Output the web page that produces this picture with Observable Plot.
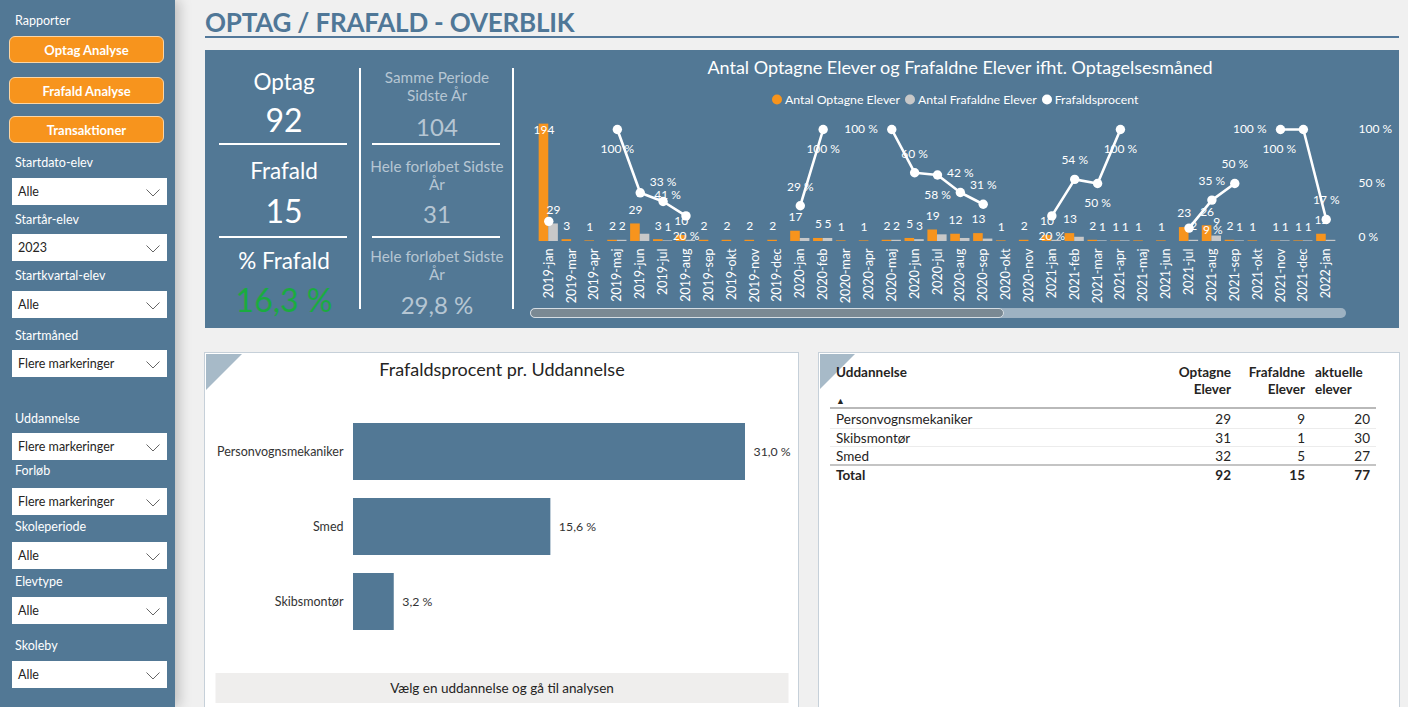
<!DOCTYPE html>
<html lang="da"><head><meta charset="utf-8">
<script src="https://cdn.jsdelivr.net/npm/d3@7"></script>
<script src="https://cdn.jsdelivr.net/npm/@observablehq/plot@0.6"></script>
<style>
html,body{margin:0;padding:0}
body{width:1408px;height:707px;overflow:hidden;background:#f0f0f0;position:relative;font-family:Lato,"Open Sans",sans-serif}
.a{position:absolute;white-space:nowrap}
.c{transform:translate(-50%,-50%)}
.lc{transform:translate(0,-50%)}
.rc{transform:translate(-100%,-50%)}
.btn{left:9px;width:155px;height:27px;background:#f7941d;border:1.5px solid #fbd5a4;border-radius:6px;color:#fff;font-weight:700;font-size:13px;display:flex;align-items:center;justify-content:center;box-sizing:border-box}
.flabel{left:15px;color:#fff;font-size:12.5px}
.dd{left:12px;width:155px;height:27px;background:#fff;box-sizing:border-box;font-size:12.5px;color:#252423;display:flex;align-items:center;padding-left:6px}
.dd svg{position:absolute;right:7px;top:11px}
.wpanel{background:#fff;border:1.5px solid #c6d0d9;box-sizing:border-box}
.hl{background:#fff;height:2px}
.vl{background:#fff;width:2px}
.kw{color:#fff}
.km{color:#b6c6d3}
.plotbox{position:absolute}
.plotbox svg{display:block}
.tbl{font-size:13.5px;color:#252423}
</style></head>
<body>
<script>
// ---------- DATA ----------
const months = ["2019-jan","2019-mar","2019-apr","2019-maj","2019-jun","2019-jul","2019-aug","2019-sep","2019-okt","2019-nov","2019-dec",
  "2020-jan","2020-feb","2020-mar","2020-apr","2020-maj","2020-jun","2020-jul","2020-aug","2020-sep","2020-okt","2020-nov",
  "2021-jan","2021-feb","2021-mar","2021-apr","2021-maj","2021-jun","2021-jul","2021-aug","2021-sep","2021-okt","2021-nov","2021-dec",
  "2022-jan"];
const optagneMd = [194,3,1,2,29,3,10,2,2,2,2, 17,5,1,1,2,5,19,12,13,1,2, 10,13,2,1,1,1,23,26,2,1,1,1, 12];
const frafaldneMd = [29,0,0,2,12,1,2,0,0,0,0, 5,5,0,0,2,3,11,5,4,0,0, 2,7,1,1,0,0,2,9,1,0,1,1, 2];

const uddannelser = ["Personvognsmekaniker","Skibsmontør","Smed"];
const optagneUdd = [29,31,32];
const frafaldneUdd = [9,1,5];
const aktuelleUdd = [20,30,27];

const kpiOptag = 92, kpiFrafald = 15;
const lastYearSamePeriod = 104, lastYearFrafald = 31, lastYearPct = 29.8;

const filterLabels = ["Startdato-elev","Startår-elev","Startkvartal-elev","Startmåned","Uddannelse","Forløb","Skoleperiode","Elevtype","Skoleby"];
const filterValues = ["Alle","2023","Alle","Flere markeringer","Flere markeringer","Flere markeringer","Alle","Alle","Alle"];
const reportButtons = ["Optag Analyse","Frafald Analyse","Transaktioner"];

// label placement for the percentage line (style only)
const pctLabelPlacement = {"2019-jan":"none","2019-maj":"below","2019-jun":"right","2019-aug":"below","2020-feb":"below",
  "2020-maj":"left","2020-jul":"below","2021-jan":"below","2021-mar":"below","2021-apr":"below","2021-jul":"right",
  "2021-nov":"left","2021-dec":"belowleft"};

// ---------- HELPERS ----------
const BLUE = "#527895", ORANGE = "#f7941d", GREY = "#c8c8c8";
const FONT = "Lato, 'Open Sans', sans-serif";
const fmt1 = v => v.toFixed(1).replace(".", ",") + " %";
function el(cls, css, html, parent = document.body) {
  const d = document.createElement("div");
  d.className = "a " + cls;
  Object.assign(d.style, css);
  if (html != null) d.innerHTML = html;
  parent.appendChild(d);
  return d;
}
const px = v => v + "px";

// ---------- SIDEBAR ----------
el("", {left:0, top:0, width:"175px", height:"707px", background:BLUE, boxShadow:"4px 0 12px rgba(0,0,0,0.22)"});
el("flabel lc", {left:"15px", top:"20px"}, "Rapporter");
const btnTops = [36, 77, 116];
reportButtons.forEach((b, i) => el("btn", {top:px(btnTops[i])}, b));
const labelY = [162, 219, 275, 335, 418, 470, 526, 581, 645];
const boxTop = [178, 234, 291, 350, 433, 488, 542, 597, 661];
const chevron = '<svg width="14" height="8"><polyline points="0.5,0.5 7,7 13.5,0.5" fill="none" stroke="#666" stroke-width="1"/></svg>';
filterLabels.forEach((f, i) => {
  el("flabel lc", {top:px(labelY[i])}, f);
  el("dd", {top:px(boxTop[i])}, filterValues[i] + chevron);
});

// ---------- TITLE ----------
el("lc", {left:"205px", top:"22px", fontSize:"26px", fontWeight:"700", color:"#4f7797", letterSpacing:"-0.2px"}, "OPTAG / FRAFALD - OVERBLIK");
el("", {left:"205px", top:"36px", width:"1194px", height:"2px", background:"#52789a"});

// ---------- TOP PANEL ----------
el("", {left:"205px", top:"50px", width:"1194px", height:"278px", background:BLUE});
// KPI column 1
el("c kw", {left:"284px", top:"81px", fontSize:"22.5px"}, "Optag");
el("c kw", {left:"284px", top:"119px", fontSize:"32px"}, String(kpiOptag));
el("hl", {left:"219px", top:"143px", width:"128px"});
el("c kw", {left:"284px", top:"170px", fontSize:"22.5px"}, "Frafald");
el("c kw", {left:"284px", top:"210px", fontSize:"32px"}, String(kpiFrafald));
el("hl", {left:"219px", top:"236px", width:"128px"});
el("c kw", {left:"284px", top:"260px", fontSize:"22.5px"}, "% Frafald");
el("c", {left:"284px", top:"299px", fontSize:"32px", color:"#1aab40"}, fmt1(kpiFrafald / kpiOptag * 100));
el("vl", {left:"359px", top:"68px", height:"241px"});
// KPI column 2
el("c km", {left:"437px", top:"77px", fontSize:"15.3px"}, "Samme Periode");
el("c km", {left:"437px", top:"95px", fontSize:"15.3px"}, "Sidste År");
el("c km", {left:"437px", top:"126px", fontSize:"24px"}, String(lastYearSamePeriod));
el("hl", {left:"372px", top:"143px", width:"128px"});
el("c km", {left:"437px", top:"166px", fontSize:"15.3px"}, "Hele forløbet Sidste");
el("c km", {left:"437px", top:"184px", fontSize:"15.3px"}, "År");
el("c km", {left:"437px", top:"213px", fontSize:"24px"}, String(lastYearFrafald));
el("hl", {left:"372px", top:"236px", width:"128px"});
el("c km", {left:"437px", top:"256px", fontSize:"15.3px"}, "Hele forløbet Sidste");
el("c km", {left:"437px", top:"274px", fontSize:"15.3px"}, "År");
el("c km", {left:"437px", top:"304px", fontSize:"24px"}, fmt1(lastYearPct));
el("vl", {left:"512px", top:"68px", height:"241px"});

// chart title + legend
el("c", {left:"960px", top:"67px", fontSize:"18px", color:"#fff"}, "Antal Optagne Elever og Frafaldne Elever ifht. Optagelsesmåned");
const legendItems = [["Antal Optagne Elever", ORANGE], ["Antal Frafaldne Elever", GREY], ["Frafaldsprocent", "#fff"]];
const leg = el("lc", {left:"772px", top:"99px", display:"flex", alignItems:"center", fontSize:"12.3px", color:"#fff"});
legendItems.forEach(([t, c]) => {
  const s = document.createElement("span");
  s.style.cssText = `display:inline-block;width:10px;height:10px;border-radius:50%;background:${c};margin-right:3px`;
  leg.appendChild(s);
  const tt = document.createElement("span");
  tt.textContent = t; tt.style.marginRight = "5px";
  leg.appendChild(tt);
});

// ---------- COMBO CHART (Plot) ----------
const rows = months.map((m, i) => ({
  month: m, optag: optagneMd[i], frafald: frafaldneMd[i],
  pct: frafaldneMd[i] > 0 ? frafaldneMd[i] / optagneMd[i] * 100 : null
}));
const W = 880, H = 210, mL = 15, mR = 61, pad = 0.16;
const n = months.length;
const step = (W - mL - mR) / (n - pad + 2 * pad);
const bw = step * (1 - pad);
const baseStyle = {background:"transparent", color:"#fff", fontFamily:FONT, fontSize:"12px", overflow:"visible"};
// grey labels that Power BI keeps visible (others are hidden by label collision)
const showGreyLabel = d => d.frafald > 0 && (d.optag < 10 || (d.optag - d.frafald >= 17 && d.pct < 40));

const barPlot = Plot.plot({
  width: W, height: H, marginLeft: mL, marginRight: mR, marginTop: 10, marginBottom: 79,
  style: {...baseStyle, fontSize:"12.5px"},
  x: {type:"band", domain: months, padding: pad, tickRotate: -90, tickSize: 0, tickPadding: 7, label: null},
  y: {domain: [0, 200], axis: null},
  marks: [
    Plot.barY(rows, {x:"month", y:"optag", fill: ORANGE, insetLeft: 0, insetRight: bw / 2}),
    Plot.barY(rows, {x:"month", y:"frafald", fill: GREY, insetLeft: bw / 2, insetRight: 0}),
    Plot.text(rows.filter(d => d.optag > 0 && d.optag < 180), {x:"month", y:"optag", text: d => String(d.optag), dx: -bw / 4, dy: -14, fontSize: 12, fill:"#fff"}),
    Plot.text(rows.filter(d => d.optag >= 180), {x:"month", y:"optag", text: d => String(d.optag), dx: -bw / 4, dy: 6, fontSize: 12, fill:"#fff"}),
    Plot.text(rows.filter(showGreyLabel), {x:"month", y:"frafald", text: d => String(d.frafald), dx: bw / 4, dy: -14, fontSize: 12, fill:"#fff"})
  ]
});
const pb = document.createElement("div");
pb.className = "plotbox"; Object.assign(pb.style, {left:"520px", top:"110px"});
pb.appendChild(barPlot); document.body.appendChild(pb);

const P = rows.filter(d => d.pct != null);
const place = d => pctLabelPlacement[d.month] || "above";
const lbl = d => Math.round(d.pct) + " %";
const txt = (where, opts) => Plot.text(P.filter(d => place(d) === where), {x:"month", y:"pct", text: lbl, fontSize: 12, fill:"#fff", ...opts});
const linePlot = Plot.plot({
  width: W, height: H, marginLeft: mL, marginRight: mR, marginTop: 19, marginBottom: 83,
  style: baseStyle,
  x: {type:"band", domain: months, padding: pad, axis: null},
  y: {domain: [0, 100], ticks: [0, 50, 100], tickFormat: d => d + " %", axis: "right", tickSize: 0, tickPadding: 19, label: null},
  marks: [
    Plot.lineY(rows, {x:"month", y:"pct", stroke:"#fff", strokeWidth: 2.6}),
    Plot.dot(P, {x:"month", y:"pct", r: 4.7, fill:"#fff", stroke:"none"}),
    txt("above", {dy: -19}),
    txt("below", {dy: 20}),
    txt("left", {dx: -14, textAnchor:"end"}),
    txt("right", {dx: 14, dy: 2, textAnchor:"start"}),
    txt("belowleft", {dx: -24, dy: 20})
  ]
});
const lb = document.createElement("div");
lb.className = "plotbox"; Object.assign(lb.style, {left:"520px", top:"110px"});
lb.appendChild(linePlot); document.body.appendChild(lb);

// scrollbar
el("", {left:"530px", top:"308px", width:"816px", height:"10px", borderRadius:"5px", background:"#9db2c2"});
el("", {left:"530px", top:"308px", width:"474px", height:"10px", borderRadius:"5px", background:"#7a8993", border:"1px solid #d5dde3", boxSizing:"border-box"});

// ---------- BOTTOM LEFT PANEL ----------
el("wpanel", {left:"204px", top:"352px", width:"595px", height:"370px"});
el("", {left:"206px", top:"354px", width:"0", height:"0", borderTop:"36px solid #a7bac8", borderRight:"36px solid transparent"});
el("c", {left:"502px", top:"369px", fontSize:"18px", color:"#252423"}, "Frafaldsprocent pr. Uddannelse");
const pctRows = uddannelser.map((u, i) => ({name: u, pct: frafaldneUdd[i] / optagneUdd[i] * 100}))
  .sort((a, b) => b.pct - a.pct);
const hbar = Plot.plot({
  width: 590, height: 239, marginLeft: 146, marginRight: 52, marginTop: 14, marginBottom: 0,
  style: {background:"transparent", color:"#333", fontFamily:FONT, fontSize:"12.5px", overflow:"visible"},
  y: {domain: pctRows.map(d => d.name), paddingInner: 0.24, paddingOuter: 0.12, tickSize: 0, tickPadding: 10, label: null},
  x: {domain: [0, d3.max(pctRows, d => d.pct)], axis: null},
  marks: [
    Plot.barX(pctRows, {y:"name", x:"pct", fill: BLUE}),
    Plot.text(pctRows, {y:"name", x:"pct", text: d => fmt1(d.pct), dx: 8, textAnchor:"start", fontSize: 12.3, fill:"#333"})
  ]
});
const hb = document.createElement("div");
hb.className = "plotbox"; Object.assign(hb.style, {left:"207px", top:"400px"});
hb.appendChild(hbar); document.body.appendChild(hb);
el("c", {left:"502px", top:"688px", width:"573px", height:"30px", background:"#efeeed", display:"flex", alignItems:"center", justifyContent:"center", fontSize:"13.5px", color:"#252423"}, "Vælg en uddannelse og gå til analysen");

// ---------- TABLE PANEL ----------
el("wpanel", {left:"818px", top:"352px", width:"582px", height:"370px"});
el("", {left:"820px", top:"354px", width:"0", height:"0", borderTop:"35px solid #a7bac8", borderRight:"35px solid transparent"});
el("lc tbl", {left:"836px", top:"372px", fontWeight:"700"}, "Uddannelse");
el("lc tbl", {left:"836px", top:"400px", fontSize:"9px"}, "▲");
el("rc tbl", {left:"1231px", top:"372px", fontWeight:"700"}, "Optagne");
el("rc tbl", {left:"1231px", top:"389px", fontWeight:"700"}, "Elever");
el("rc tbl", {left:"1305px", top:"372px", fontWeight:"700"}, "Frafaldne");
el("rc tbl", {left:"1305px", top:"389px", fontWeight:"700"}, "Elever");
el("lc tbl", {left:"1315px", top:"372px", fontWeight:"700"}, "aktuelle");
el("lc tbl", {left:"1315px", top:"389px", fontWeight:"700"}, "elever");
el("", {left:"830px", top:"407px", width:"546px", height:"1.5px", background:"#b9b9b9"});
const rowY = [419, 437.5, 456];
const colR = [1231, 1305, 1370];
uddannelser.forEach((u, i) => {
  el("lc tbl", {left:"836px", top:px(rowY[i])}, u);
  [optagneUdd[i], frafaldneUdd[i], aktuelleUdd[i]].forEach((v, j) => el("rc tbl", {left:px(colR[j]), top:px(rowY[i])}, String(v)));
  if (i < uddannelser.length - 1) el("", {left:"830px", top:px(rowY[i] + 8.5), width:"546px", height:"1px", background:"#ececec"});
});
el("", {left:"830px", top:"464px", width:"546px", height:"1.5px", background:"#c4c4c4"});
el("lc tbl", {left:"836px", top:"475px", fontWeight:"700"}, "Total");
[d3.sum(optagneUdd), d3.sum(frafaldneUdd), d3.sum(aktuelleUdd)].forEach((v, j) =>
  el("rc tbl", {left:px(colR[j]), top:"475px", fontWeight:"700"}, String(v)));
</script>
</body></html>
